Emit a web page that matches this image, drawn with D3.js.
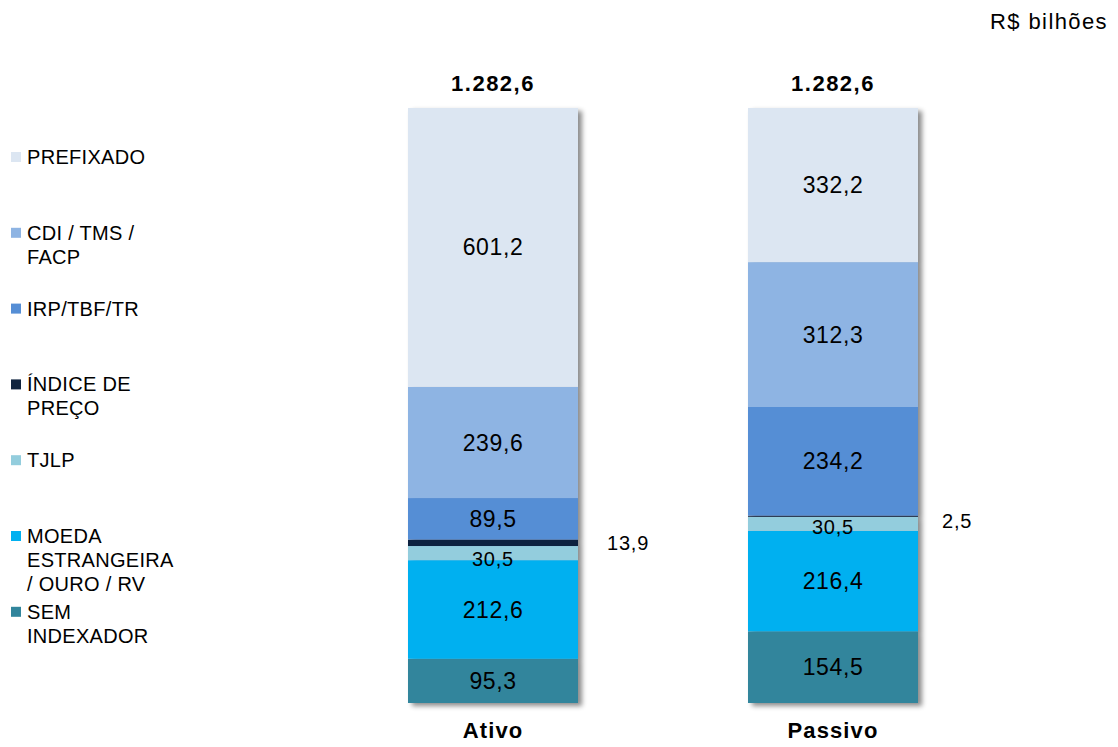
<!DOCTYPE html>
<html>
<head>
<meta charset="utf-8">
<script src="https://cdn.jsdelivr.net/npm/d3@7"></script>
<style>
  html, body { margin: 0; padding: 0; background: #fff; }
  svg { display: block; font-family: "Liberation Sans", Arial, sans-serif; }
</style>
</head>
<body>
<svg id="chart" width="1118" height="747"></svg>
<script>
// ---- data ----
const categories = ["Ativo", "Passivo"];
const seriesNames = ["SEM INDEXADOR", "MOEDA ESTRANGEIRA / OURO / RV", "TJLP", "ÍNDICE DE PREÇO", "IRP/TBF/TR", "CDI / TMS / FACP", "PREFIXADO"];
const ativoValues   = [95.3, 212.6, 30.5, 13.9, 89.5, 239.6, 601.2];
const passivoValues = [154.5, 216.4, 30.5, 2.5, 234.2, 312.3, 332.2];
const totalLabels = ["1.282,6", "1.282,6"];
const valueLabels = {
  Ativo:   ["95,3", "212,6", "30,5", "13,9", "89,5", "239,6", "601,2"],
  Passivo: ["154,5", "216,4", "30,5", "2,5", "234,2", "312,3", "332,2"]
};
const legendLines = [
  ["PREFIXADO"],
  ["CDI / TMS /", "FACP"],
  ["IRP/TBF/TR"],
  ["ÍNDICE DE", "PREÇO"],
  ["TJLP"],
  ["MOEDA", "ESTRANGEIRA", "/ OURO / RV"],
  ["SEM", "INDEXADOR"]
];
const colors = ["#31859C", "#00B0F0", "#93CDDD", "#10243F", "#558ED5", "#8EB4E3", "#DCE6F2"];
const unitLabel = "R$ bilhões";

// ---- build ----
const svg = d3.select("#chart");
const defs = svg.append("defs");
const f = defs.append("filter").attr("id", "shadow").attr("x", "-10%").attr("y", "-5%").attr("width", "130%").attr("height", "115%");
f.append("feDropShadow").attr("dx", 4).attr("dy", 3).attr("stdDeviation", 2.5)
  .attr("flood-color", "#000").attr("flood-opacity", 0.45);

const table = categories.map((c, i) => {
  const vals = i === 0 ? ativoValues : passivoValues;
  const row = { cat: c };
  seriesNames.forEach((s, j) => row[s] = vals[j]);
  return row;
});
const stack = d3.stack().keys(seriesNames)(table);
const totals = categories.map((c, i) => d3.sum(i === 0 ? ativoValues : passivoValues));

const x = d3.scaleBand().domain(categories).range([238, 1088]).padding(0.5);
const y = d3.scaleLinear().domain([0, d3.max(totals)]).range([703, 108]);

// bars (with shadow per bar group)
const barG = svg.append("g");
categories.forEach((c, ci) => {
  const g = barG.append("g").attr("filter", "url(#shadow)");
  stack.forEach((layer, li) => {
    const d = layer[ci];
    g.append("rect")
      .attr("x", x(c))
      .attr("width", x.bandwidth())
      .attr("y", y(d[1]))
      .attr("height", y(d[0]) - y(d[1]))
      .attr("fill", colors[li]);
  });
});

// value labels
const outsideSeries = 3; // ÍNDICE DE PREÇO labels sit outside the bars
stack.forEach((layer, li) => {
  layer.forEach((d, ci) => {
    const c = categories[ci];
    const v = d[1] - d[0];
    const label = valueLabels[c][li];
    const mid = y((d[0] + d[1]) / 2);
    if (li === outsideSeries) {
      svg.append("text")
        .attr("x", x(c) + x.bandwidth() + (ci === 0 ? 29 : 24))
        .attr("y", mid + (ci === 0 ? 0 : 5))
        .attr("dy", "0.35em")
        .attr("font-size", 20).attr("letter-spacing", 0.8)
        .attr("fill", "#000")
        .text(label);
    } else if (v < 40) {
      svg.append("text")
        .attr("x", x(c) + x.bandwidth() / 2)
        .attr("y", mid + (ci === 0 ? 6 : 3))
        .attr("dy", "0.35em")
        .attr("text-anchor", "middle")
        .attr("font-size", 20).attr("letter-spacing", 0.8)
        .attr("fill", "#000")
        .text(label);
    } else {
      svg.append("text")
        .attr("x", x(c) + x.bandwidth() / 2)
        .attr("y", mid)
        .attr("dy", "0.35em")
        .attr("text-anchor", "middle")
        .attr("font-size", 23).attr("letter-spacing", 0.6)
        .attr("fill", "#000")
        .text(label);
    }
  });
});

// totals
categories.forEach((c, i) => {
  svg.append("text")
    .attr("x", x(c) + x.bandwidth() / 2)
    .attr("y", 91)
    .attr("text-anchor", "middle")
    .attr("font-size", 22).attr("font-weight", "bold").attr("letter-spacing", 1.5)
    .text(totalLabels[i]);
});

// category axis labels
const xAxis = d3.axisBottom(x).tickSize(0).tickPadding(0);
const ax = svg.append("g").attr("transform", "translate(0,722)").call(xAxis);
ax.select(".domain").remove();
ax.selectAll("text")
  .attr("font-family", "'Liberation Sans', Arial, sans-serif")
  .attr("font-size", 22).attr("font-weight", "bold").attr("letter-spacing", 1.1)
  .attr("fill", "#000");

// legend
const legendTop = 157, legendStep = 75.8, lineH = 24;
const legend = svg.append("g");
legendLines.forEach((lines, i) => {
  const colorIdx = seriesNames.length - 1 - i;
  const yy = legendTop + i * legendStep;
  legend.append("rect")
    .attr("x", 11).attr("y", yy - 5).attr("width", 10).attr("height", 10)
    .attr("fill", colors[colorIdx]);
  const t = legend.append("text")
    .attr("x", 27).attr("y", yy)
    .attr("font-size", 20).attr("letter-spacing", 0.3).attr("fill", "#000");
  lines.forEach((ln, k) => {
    t.append("tspan").attr("x", 27).attr("dy", k === 0 ? "0.35em" : lineH).text(ln);
  });
});

// unit label
svg.append("text")
  .attr("x", 1108).attr("y", 29)
  .attr("text-anchor", "end")
  .attr("font-size", 22).attr("letter-spacing", 1.4)
  .text(unitLabel);
</script>
</body>
</html>
